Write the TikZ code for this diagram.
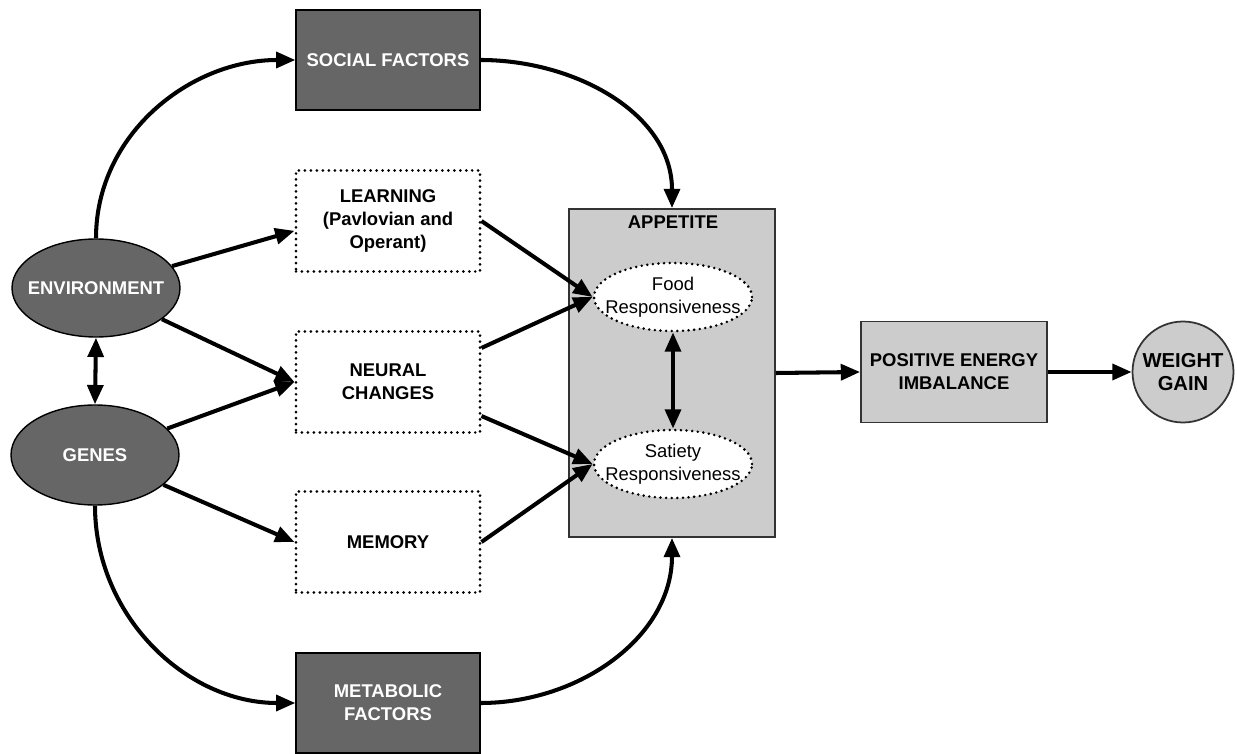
\documentclass[tikz,border=0pt]{standalone}
\usepackage{fontspec}
\setmainfont{Liberation Sans}
\usepackage{tikz}
\usetikzlibrary{arrows.meta,shapes}

\definecolor{darkfill}{HTML}{666666}
\definecolor{lightfill}{HTML}{CCCCCC}

\tikzset{
  darkbox/.style={rectangle, draw=black, line width=0.7pt, fill=darkfill, text=white,
    minimum width=3.68cm, minimum height=2cm, align=center, font=\fontsize{10.5pt}{13pt}\selectfont\bfseries},
  dotbox/.style={rectangle, draw=black, line width=1.7pt, line cap=round, dash pattern=on 0pt off 3.4pt,
    minimum width=3.68cm, minimum height=2.02cm, align=center, font=\fontsize{10.5pt}{13pt}\selectfont\bfseries},
  darkoval/.style={ellipse, draw=black, line width=0.8pt, fill=darkfill, text=white, inner sep=0pt,
    inner xsep=-0.2cm, minimum width=3.36cm, minimum height=1.96cm, font=\fontsize{10.5pt}{13pt}\selectfont\bfseries},
  dotoval/.style={ellipse, draw=black, line width=1.6pt, line cap=round, dash pattern=on 0pt off 3.2pt, fill=white,
    inner sep=0pt, inner xsep=-0.25cm, minimum width=3.16cm, minimum height=1.36cm, align=center,
    font=\fontsize{10.5pt}{13pt}\selectfont},
  lightbox/.style={rectangle, draw=black!80, line width=1pt, fill=lightfill, align=center,
    font=\fontsize{10.5pt}{13pt}\selectfont\bfseries},
  arr/.style={-{Triangle[length=11pt,width=9pt]}, line width=2.3pt},
  dblarr/.style={{Triangle[length=11pt,width=9pt]}-{Triangle[length=11pt,width=9pt]}, line width=2.3pt},
}

\begin{document}
\begin{tikzpicture}

\useasboundingbox (0,0) rectangle (24.74,-15.08);

% appetite block
\node[lightbox, minimum width=4.12cm, minimum height=6.56cm] (appetite) at (13.44,-7.46) {};
\node[font=\fontsize{10.5pt}{13pt}\selectfont\bfseries] (appetitelbl) at (13.46,-4.44) {APPETITE};
\node[dotoval] (food) at (13.46,-5.94) {Food\\Responsiveness};
\node[dotoval] (satiety) at (13.46,-9.28) {Satiety\\Responsiveness};

% left side
\node[darkoval] (env) at (1.92,-5.76) {ENVIRONMENT};
\node[darkoval, minimum height=2cm] (genes) at (1.9,-9.1) {GENES};

\node[darkbox] (social) at (7.76,-1.2) {SOCIAL FACTORS};
\node[dotbox] (learning) at (7.76,-4.42) {LEARNING\\(Pavlovian and\\Operant)};
\node[dotbox] (neural) at (7.76,-7.64) {NEURAL\\CHANGES};
\node[dotbox] (memory) at (7.76,-10.84) {MEMORY};
\node[darkbox] (metabolic) at (7.76,-14.06) {METABOLIC\\FACTORS};

% right side
\node[lightbox, minimum width=3.72cm, minimum height=2.02cm] (energy) at (19.08,-7.44) {POSITIVE ENERGY\\IMBALANCE};
\node[lightbox, circle, inner sep=0pt, minimum size=2.02cm, font=\fontsize{11.5pt}{13pt}\selectfont\bfseries] (weight) at (23.66,-7.44) {WEIGHT\\GAIN};

% connectors
\draw[arr] (env.north) to[out=90,in=180] (social.west);
\draw[arr] (social.east) to[out=0,in=90] (appetite.north);
\draw[arr] (genes.south) to[out=-90,in=180] (metabolic.west);
\draw[arr] (metabolic.east) to[out=0,in=-90] (appetite.south);

\draw[dblarr] (env.south) -- (genes.north);
\draw[arr] (env) -- (learning.186);
\draw[arr] (env) -- (neural.west);
\draw[arr] (genes) -- (neural.west);
\draw[arr] (genes) -- (memory.west);

\draw[arr] (learning.east) -- (food.west);
\draw[arr] (neural.20) -- (food.west);
\draw[arr] (neural.-20) -- (satiety.west);
\draw[arr] (memory.east) -- (satiety.west);
\draw[dblarr] (food.south) -- (satiety.north);

\draw[arr] (appetite.east) -- (energy.west);
\draw[arr] (energy.east) -- (weight.west);

\end{tikzpicture}
\end{document}
